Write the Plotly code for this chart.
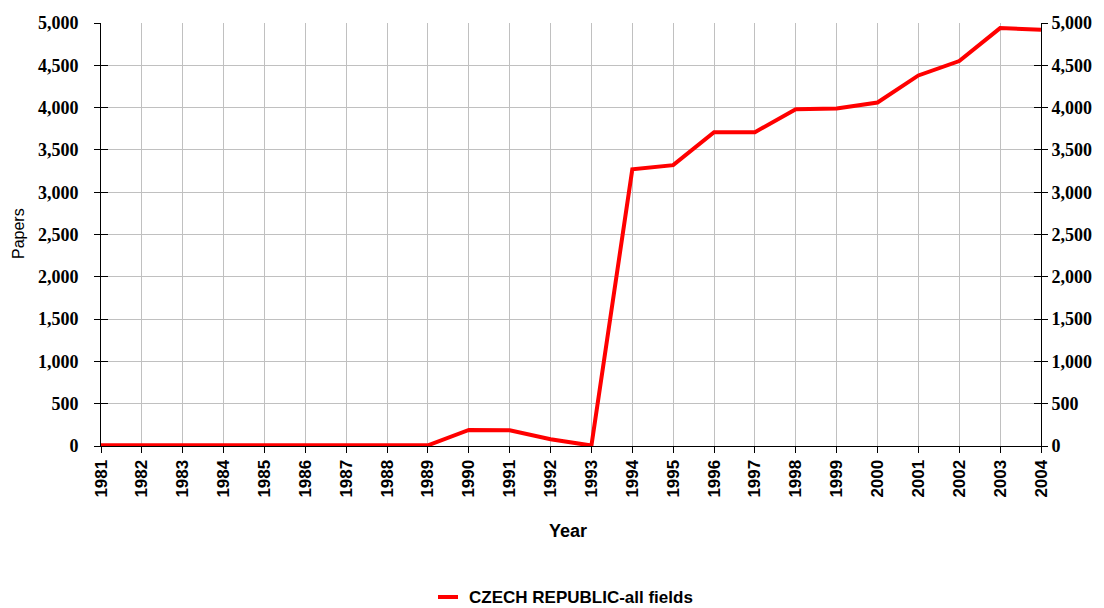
import plotly.graph_objects as go

years = [str(y) for y in range(1981, 2005)]
papers = [8, 8, 8, 8, 8, 8, 8, 8, 8, 190, 185, 80, 5, 3270, 3320, 3710, 3710, 3980, 3990, 4060, 4380, 4550, 4940, 4920]
y_ticks = [0, 500, 1000, 1500, 2000, 2500, 3000, 3500, 4000, 4500, 5000]
series_name = "CZECH REPUBLIC-all fields"

x_font = dict(family="Liberation Sans", size=17, color="#000000", weight="bold")
y_font = dict(family="Liberation Serif", size=18, color="#000000", weight="bold")

W, H = 1104, 608
L, R, T, B = 101, 1041, 23, 446
plot_w = R - L
plot_h = B - T

def px(xp):
    return (xp - L) / plot_w

def py(yp):
    return (B - yp) / plot_h

fig = go.Figure()
fig.add_trace(go.Scatter(x=years, y=papers, mode="lines", name=series_name,
                         line=dict(color="#ff0000", width=4), showlegend=False))
for ax in ["y2", "y3", "y4"]:
    fig.add_trace(go.Scatter(x=years, y=papers, mode="lines", yaxis=ax,
                             line=dict(width=0, color="rgba(0,0,0,0)"), showlegend=False, hoverinfo="skip"))

common_y = dict(range=[0, 5000], tickvals=y_ticks, tickformat=",d", zeroline=False, automargin=False,
                showline=True, linecolor="#000000", linewidth=1, tickcolor="#000000", tickwidth=1)

fig.update_layout(
    width=W, height=H,
    margin=dict(l=L, r=W - R, t=T, b=H - B, autoexpand=False),
    plot_bgcolor="white", paper_bgcolor="white",
    showlegend=False,
    xaxis=dict(type="category", range=[0, 23], showgrid=True, gridcolor="#c0c0c0", gridwidth=1,
               showline=True, linecolor="#000000", linewidth=1, ticks="outside", ticklen=6,
               tickcolor="#000000", tickangle=-90, tickfont=x_font, zeroline=False, automargin=False),
    yaxis=dict(**common_y, showgrid=True, gridcolor="#c0c0c0", ticks="outside", ticklen=6,
               tickfont=y_font, ticklabelstandoff=12),
    yaxis2=dict(**common_y, overlaying="y", side="right", showgrid=False, ticks="outside", ticklen=6,
                tickfont=y_font),
    yaxis3=dict(**common_y, overlaying="y", side="left", showgrid=False, ticks="inside", ticklen=7,
                showticklabels=False),
    yaxis4=dict(**common_y, overlaying="y", side="right", showgrid=False, ticks="inside", ticklen=7,
                showticklabels=False),
    shapes=[
        dict(type="line", xref="paper", yref="paper", x0=px(438), x1=px(458), y0=py(597), y1=py(597),
             line=dict(color="#ff0000", width=4)),
    ],
    annotations=[
        dict(text=series_name, x=px(467), xref="paper", y=py(597), yref="paper", showarrow=False,
             xanchor="left", yanchor="middle",
             font=dict(family="Liberation Sans", size=17, color="#000000", weight="bold")),
        dict(text="Year", x=px(568), xref="paper", y=py(531), yref="paper",
             showarrow=False, xanchor="center", yanchor="middle",
             font=dict(family="Liberation Sans", size=18, color="#000000", weight="bold")),
        dict(text="Papers", x=px(18), xref="paper", y=py(234), yref="paper",
             showarrow=False, textangle=-90, xanchor="center", yanchor="middle",
             font=dict(family="Liberation Sans", size=16, color="#000000")),
    ],
)

fig.write_html("out.html", post_script="document.body.style.margin='0px';",
               config={"displayModeBar": False})
